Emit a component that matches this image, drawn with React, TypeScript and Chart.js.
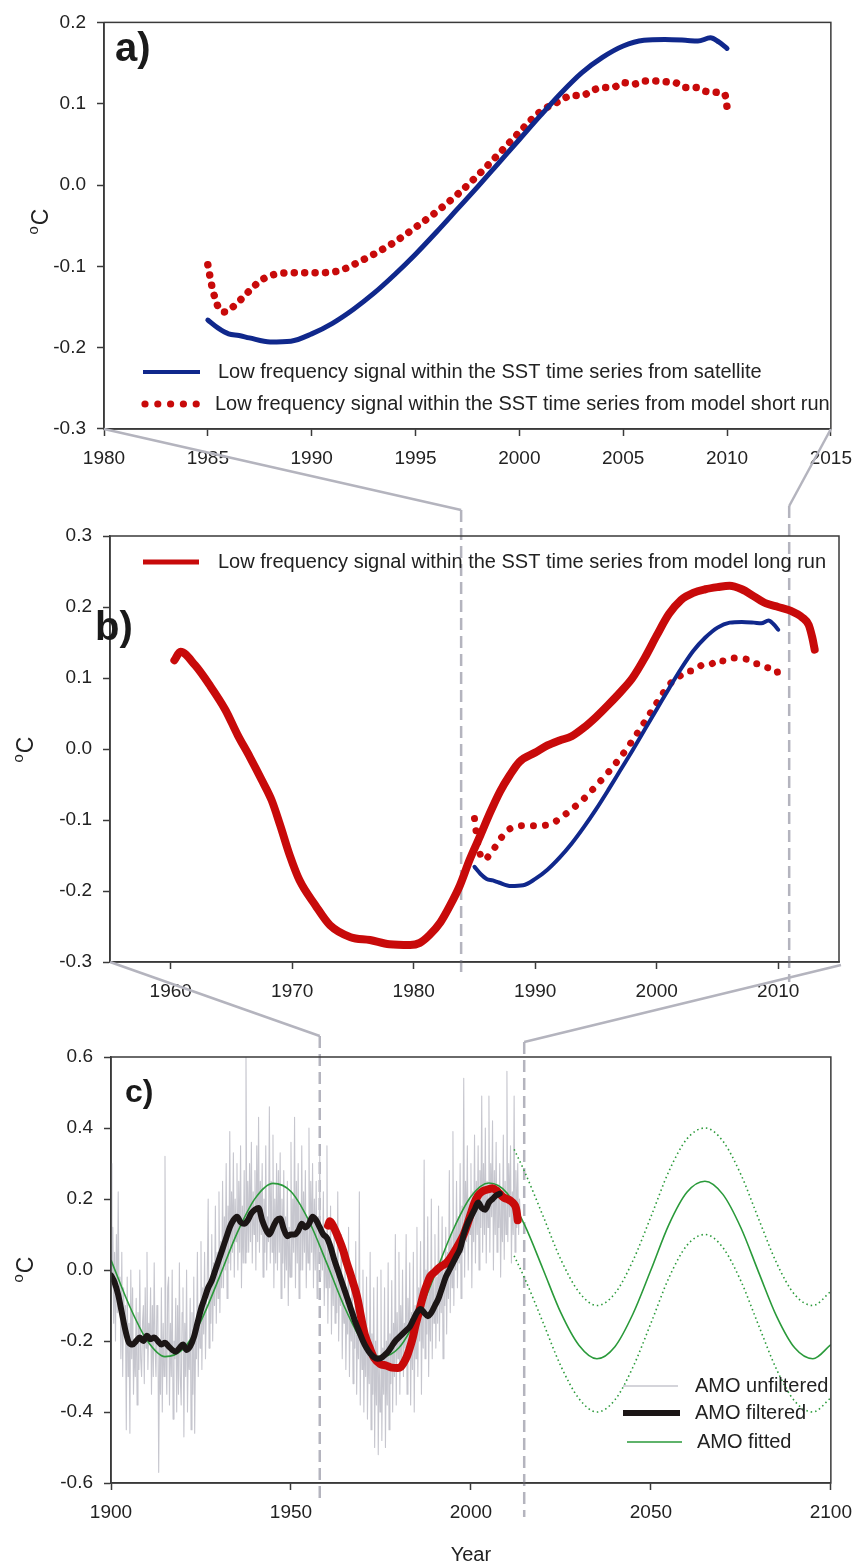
import React, { useEffect, useRef } from 'react';
import { Chart, registerables } from 'chart.js';

Chart.register(...registerables);

const PAGE_W = 863;
const PAGE_H = 1566;
const FONT = '"Liberation Sans", Arial, sans-serif';
const AXIS = '#3a3a3a';
const TEXT = '#222222';
const CONNECT = '#b4b4be';
const NAVY = '#10288c';
const RED = '#c80a0a';
const GREEN = '#2a9a3a';
const GREY = '#c6c6ce';
const BLACK = '#1c1616';

// ---------- Panel a: satellite and model short run ----------
const satYears = [1985, 1985.5, 1986, 1986.5, 1987, 1988, 1989, 1990, 1991, 1992, 1993, 1994, 1995, 1996, 1997, 1998, 1999, 2000, 2001, 2002, 2003, 2004, 2005, 2006, 2007, 2008, 2008.6, 2009.2, 2009.6, 2010];
const satValues = [-0.166, -0.176, -0.183, -0.185, -0.188, -0.193, -0.192, -0.183, -0.17, -0.153, -0.133, -0.11, -0.085, -0.058, -0.03, -0.002, 0.027, 0.056, 0.085, 0.113, 0.138, 0.157, 0.171, 0.178, 0.179, 0.178, 0.177, 0.181, 0.176, 0.168];

const shortYears = [1985, 1985.2, 1985.5, 1985.8, 1986.2, 1986.7, 1987.2, 1987.7, 1988.2, 1989, 1990, 1991, 1991.5, 1992, 1993, 1994, 1995, 1996, 1997, 1998, 1999, 2000, 2001, 2002, 2002.5, 2003, 2003.5, 2004, 2004.5, 2005, 2005.5, 2006, 2006.5, 2007, 2007.5, 2008, 2008.5, 2009, 2009.5, 2009.9, 2010];
const shortValues = [-0.098, -0.125, -0.15, -0.156, -0.15, -0.138, -0.125, -0.115, -0.11, -0.108, -0.108, -0.107, -0.104, -0.098, -0.085, -0.07, -0.052, -0.033, -0.012, 0.012, 0.038, 0.065, 0.09, 0.104, 0.11, 0.11, 0.116, 0.12, 0.12, 0.126, 0.124, 0.128, 0.128, 0.127, 0.126, 0.12, 0.12, 0.115, 0.114, 0.111, 0.096];

// ---------- Panel b: model long run ----------
const longYears = [1960.3, 1960.8, 1962, 1963.2, 1964.5, 1965.5, 1966.5, 1967.5, 1968.3, 1969, 1969.8, 1970.6, 1971.9, 1973.1, 1974.8, 1976.4, 1978, 1979.7, 1980.5, 1981.3, 1982.2, 1983, 1983.8, 1984.6, 1985.5, 1986.3, 1987.1, 1987.9, 1988.7, 1990, 1991, 1992, 1993, 1994, 1995, 1996, 1997, 1998, 1999, 2000, 2001, 2002, 2003, 2004, 2005, 2006, 2007, 2008, 2009, 2010, 2011, 2012, 2012.5, 2012.8, 2013];
const longValues = [0.125, 0.137, 0.118, 0.09, 0.055, 0.02, -0.011, -0.044, -0.072, -0.107, -0.15, -0.185, -0.22, -0.248, -0.265, -0.269, -0.275, -0.276, -0.273, -0.262, -0.244, -0.22, -0.192, -0.156, -0.121, -0.089, -0.06, -0.037, -0.018, -0.005, 0.005, 0.012, 0.018, 0.03, 0.045, 0.062, 0.08, 0.1, 0.128, 0.16, 0.19, 0.21, 0.22, 0.225, 0.228, 0.23, 0.225, 0.215, 0.205, 0.2, 0.195, 0.185, 0.175, 0.157, 0.14];

// ---------- Panel c: AMO ----------
const amoStart = 1900;
const amoStep = 0.25;
const amoRaw = [
  0.30, -0.05, 0.12, -0.15, 0.05, -0.20, 0.10, -0.12, 0.22, -0.10, -0.02, -0.25, 0.05, -0.30, -0.05, -0.18, -0.10, -0.45, -0.02, -0.30, // 1900-1904
  -0.15, -0.46, 0.00, -0.25, -0.05, -0.35, -0.20, -0.30, -0.08, -0.38, -0.12, -0.28, 0.00, -0.25, -0.30, -0.15, -0.10, -0.32, -0.05, -0.22, // 1905-1909
  0.05, -0.28, -0.15, -0.20, -0.05, -0.35, -0.10, -0.30, 0.02, -0.22, -0.30, -0.10, -0.10, -0.57, -0.20, -0.35, -0.05, -0.40, -0.15, -0.30, // 1910-1914
  0.32, -0.20, -0.35, -0.05, -0.02, -0.38, -0.15, -0.30, 0.00, -0.42, -0.20, -0.25, -0.08, -0.40, -0.10, -0.35, 0.02, -0.30, -0.38, -0.12, // 1915-1919
  -0.05, -0.47, -0.15, -0.30, 0.00, -0.40, -0.20, -0.28, -0.08, -0.45, -0.12, -0.35, -0.02, -0.46, -0.20, -0.25, 0.05, -0.30, -0.10, -0.22, // 1920-1924
  0.08, -0.28, -0.05, -0.18, 0.05, -0.25, -0.10, -0.02, 0.20, -0.22, -0.05, -0.15, 0.10, -0.20, 0.02, -0.10, 0.18, -0.15, 0.05, -0.08, // 1925-1929
  0.22, -0.12, 0.08, -0.05, 0.25, -0.05, 0.15, 0.00, 0.30, -0.08, 0.18, 0.02, 0.39, 0.00, 0.22, 0.05, 0.33, -0.02, 0.20, 0.08, // 1930-1934
  0.30, 0.00, 0.25, 0.05, 0.35, -0.05, 0.18, 0.02, 0.28, 0.02, 0.62, 0.05, 0.25, 0.05, 0.30, 0.08, 0.36, 0.02, 0.22, 0.10, // 1935-1939
  0.28, 0.00, 0.35, 0.08, 0.43, 0.05, 0.25, 0.10, 0.30, -0.02, 0.20, 0.05, 0.35, 0.00, 0.15, 0.08, 0.46, 0.02, 0.25, 0.05, // 1940-1944
  0.38, -0.05, 0.20, 0.02, 0.30, 0.00, 0.28, 0.05, 0.33, -0.08, 0.20, 0.02, 0.28, -0.05, 0.15, 0.00, 0.25, -0.10, 0.12, -0.02, // 1945-1949
  0.36, -0.02, 0.20, 0.05, 0.43, -0.05, 0.25, 0.02, 0.30, -0.08, 0.18, 0.00, 0.35, 0.00, 0.22, 0.05, 0.28, -0.05, 0.15, 0.02, // 1950-1954
  0.40, 0.00, 0.25, 0.05, 0.30, -0.05, 0.20, 0.00, 0.25, -0.08, 0.15, 0.02, 0.32, -0.02, 0.12, 0.00, 0.22, -0.10, 0.10, -0.05, // 1955-1959
  0.35, -0.15, 0.08, -0.05, 0.18, -0.18, 0.05, -0.10, 0.12, -0.15, 0.02, -0.12, 0.22, -0.20, 0.00, -0.10, 0.10, -0.25, -0.05, -0.15, // 1960-1964
  0.05, -0.28, -0.10, -0.18, 0.12, -0.30, -0.08, -0.20, 0.00, -0.32, -0.12, -0.22, 0.08, -0.35, -0.15, -0.25, 0.22, -0.38, -0.10, -0.28, // 1965-1969
  0.00, -0.40, -0.15, -0.30, -0.02, -0.42, -0.20, -0.32, 0.05, -0.45, -0.18, -0.35, -0.05, -0.50, -0.20, -0.38, -0.02, -0.52, -0.25, -0.40, // 1970-1974
  0.00, -0.48, -0.22, -0.35, -0.05, -0.50, -0.20, -0.38, 0.02, -0.45, -0.18, -0.32, -0.03, -0.40, -0.15, -0.30, 0.10, -0.38, -0.12, -0.25, // 1975-1979
  0.05, -0.35, -0.10, -0.28, 0.00, -0.30, -0.15, -0.22, 0.10, -0.35, -0.08, -0.25, 0.02, -0.38, -0.12, -0.28, 0.05, -0.40, -0.10, -0.25, // 1980-1984
  0.12, -0.30, -0.05, -0.20, 0.08, -0.35, -0.08, -0.22, 0.31, -0.25, 0.00, -0.18, 0.15, -0.30, -0.05, -0.20, 0.20, -0.25, 0.00, -0.15, // 1985-1989
  0.10, -0.22, -0.02, -0.15, 0.18, -0.20, 0.02, -0.12, 0.15, -0.25, 0.00, -0.10, 0.12, -0.18, 0.05, -0.08, 0.28, -0.12, 0.10, -0.05, // 1990-1994
  0.39, -0.10, 0.12, 0.00, 0.25, -0.05, 0.15, 0.02, 0.30, -0.08, 0.18, 0.05, 0.54, -0.02, 0.25, 0.08, 0.35, 0.00, 0.20, 0.10, // 1995-1999
  0.30, -0.05, 0.22, 0.08, 0.38, 0.02, 0.25, 0.10, 0.35, 0.00, 0.28, 0.12, 0.49, 0.05, 0.30, 0.10, 0.40, 0.02, 0.25, 0.12, // 2000-2004
  0.49, 0.05, 0.30, 0.15, 0.42, 0.00, 0.28, 0.10, 0.36, 0.05, 0.22, 0.12, 0.30, -0.02, 0.20, 0.08, 0.38, 0.03, 0.25, 0.10, // 2005-2009
  0.56, 0.08, 0.30, 0.15, 0.35, 0.02, 0.22, 0.10, 0.49, 0.05, 0.28, 0.12, 0.30, 0.10, 0.20, 0.15, // 2010-2013
];

const filtStart = 1900;
const filtValues = [
  -0.015, -0.035, -0.07, -0.12, -0.17, -0.205, -0.21, -0.2, -0.19, -0.2, // 1900s
  -0.185, -0.195, -0.19, -0.2, -0.21, -0.205, -0.215, -0.225, -0.23, -0.22, // 1910s
  -0.21, -0.225, -0.215, -0.19, -0.15, -0.11, -0.08, -0.05, -0.03, 0.0, // 1920s
  0.03, 0.06, 0.09, 0.12, 0.14, 0.15, 0.135, 0.13, 0.14, 0.16, // 1930s
  0.17, 0.175, 0.14, 0.115, 0.1, 0.12, 0.14, 0.145, 0.115, 0.095, // 1940s
  0.1, 0.1, 0.11, 0.13, 0.12, 0.13, 0.15, 0.14, 0.12, 0.1, // 1950s
  0.09, 0.065, 0.03, 0.0, -0.03, -0.06, -0.09, -0.12, -0.15, -0.175, // 1960s
  -0.2, -0.22, -0.235, -0.245, -0.25, -0.248, -0.24, -0.23, -0.215, -0.2, // 1970s
  -0.19, -0.18, -0.17, -0.16, -0.14, -0.12, -0.11, -0.12, -0.13, -0.12, // 1980s
  -0.1, -0.08, -0.05, -0.02, 0.0, 0.02, 0.04, 0.06, 0.1, 0.13, // 1990s
  0.15, 0.17, 0.19, 0.175, 0.17, 0.19, 0.2, 0.21, 0.215, // 2000s
];

const fitYears = [1900, 1905, 1910, 1915, 1920, 1925, 1930, 1935, 1940, 1945, 1950, 1955, 1960, 1965, 1970, 1975, 1980, 1985, 1990, 1995, 2000, 2005, 2010, 2015, 2020, 2025, 2030, 2035, 2040, 2045, 2050, 2055, 2060, 2065, 2070, 2075, 2080, 2085, 2090, 2095, 2100];
const fitValues = [0.028, -0.098, -0.198, -0.244, -0.223, -0.143, -0.023, 0.103, 0.201, 0.244, 0.221, 0.138, 0.018, -0.107, -0.204, -0.245, -0.219, -0.134, -0.013, 0.112, 0.207, 0.245, 0.217, 0.125, 0.003, -0.121, -0.212, -0.25, -0.216, -0.124, 0.0, 0.128, 0.219, 0.25, 0.213, 0.119, -0.008, -0.132, -0.22, -0.25, -0.21];

const bandYears = [2012, 2015, 2020, 2025, 2030, 2035, 2040, 2045, 2050, 2055, 2060, 2065, 2070, 2075, 2080, 2085, 2090, 2095, 2100];
const bandUpper = [0.34, 0.275, 0.153, 0.029, -0.062, -0.1, -0.066, 0.026, 0.15, 0.278, 0.369, 0.4, 0.363, 0.269, 0.142, 0.018, -0.07, -0.1, -0.06];
const bandLower = [0.04, -0.025, -0.147, -0.271, -0.362, -0.4, -0.366, -0.274, -0.15, -0.022, 0.069, 0.1, 0.063, -0.031, -0.158, -0.282, -0.37, -0.4, -0.36];

// ---------- axes ----------
const ticksAX = [1980, 1985, 1990, 1995, 2000, 2005, 2010, 2015];
const ticksAY = [-0.3, -0.2, -0.1, 0.0, 0.1, 0.2];
const ticksBX = [1960, 1970, 1980, 1990, 2000, 2010];
const ticksBY = [-0.3, -0.2, -0.1, 0.0, 0.1, 0.2, 0.3];
const ticksCX = [1900, 1950, 2000, 2050, 2100];
const ticksCY = [-0.6, -0.4, -0.2, 0.0, 0.2, 0.4, 0.6];

// windows of the zoomed panels, marked by dashed lines
const windowInB = [1983.9, 2010.9];
const windowInC = [1958, 2014.8];

const legendA = [
  'Low frequency signal within the SST time series from satellite',
  'Low frequency signal within the SST time series from model short run',
];
const legendB = ['Low frequency signal within the SST time series from model long run'];
const legendC = ['AMO unfiltered', 'AMO filtered', 'AMO fitted'];

const pts = (xs: number[], ys: number[]) => xs.map((x, i) => ({ x, y: ys[i] }));
const ptsStep = (start: number, step: number, ys: number[]) => ys.map((y, i) => ({ x: start + i * step, y }));
const fmt = (v: number) => (Math.abs(v) < 1e-9 ? 0 : v).toFixed(1);

function makeScales(xr: number[], xt: number[], yr: number[], yt: number[]) {
  const grid = { drawOnChartArea: false, drawTicks: true, tickLength: 7, tickWidth: 1.5, tickColor: AXIS };
  const border = { display: true, color: AXIS, width: 1.5 };
  const font = { family: FONT, size: 19 };
  return {
    x: {
      type: 'linear', position: 'bottom', min: xr[0], max: xr[1], grid, border,
      ticks: { color: TEXT, font, padding: 11, maxRotation: 0, autoSkip: false, callback: (v: number) => String(v) },
      afterBuildTicks: (s: any) => { s.ticks = xt.map((v) => ({ value: v })); },
      afterFit: (s: any) => { s.height = 45; },
    },
    y: {
      type: 'linear', position: 'left', min: yr[0], max: yr[1], grid, border,
      ticks: { color: TEXT, font, padding: 11, autoSkip: false, callback: (v: number) => fmt(v) },
      afterBuildTicks: (s: any) => { s.ticks = yt.map((v) => ({ value: v })); },
      afterFit: (s: any) => { s.width = 70; },
    },
  };
}

function frame(ctx: CanvasRenderingContext2D, chart: any) {
  const a = chart.chartArea;
  ctx.save();
  ctx.strokeStyle = AXIS;
  ctx.lineWidth = 1.5;
  ctx.strokeRect(a.left, a.top, a.right - a.left, a.bottom - a.top);
  ctx.restore();
}

function unitLabel(ctx: CanvasRenderingContext2D, cx: number, cy: number) {
  ctx.save();
  ctx.translate(cx, cy);
  ctx.rotate(-Math.PI / 2);
  ctx.fillStyle = TEXT;
  ctx.textAlign = 'left';
  ctx.textBaseline = 'alphabetic';
  ctx.font = `23px ${FONT}`;
  const wC = ctx.measureText('C').width;
  ctx.font = `15px ${FONT}`;
  const wo = ctx.measureText('o').width;
  const x0 = -(wC + wo) / 2;
  ctx.fillText('o', x0, -2);
  ctx.font = `23px ${FONT}`;
  ctx.fillText('C', x0 + wo + 1, 8);
  ctx.restore();
}

function panelLabel(ctx: CanvasRenderingContext2D, text: string, x: number, y: number, size: number) {
  ctx.save();
  ctx.fillStyle = '#1a1a1a';
  ctx.font = `bold ${size}px ${FONT}`;
  ctx.textAlign = 'left';
  ctx.textBaseline = 'alphabetic';
  ctx.fillText(text, x, y);
  ctx.restore();
}

function legendText(ctx: CanvasRenderingContext2D, text: string, x: number, y: number, size = 20) {
  ctx.save();
  ctx.fillStyle = TEXT;
  ctx.font = `${size}px ${FONT}`;
  ctx.textAlign = 'left';
  ctx.textBaseline = 'middle';
  ctx.fillText(text, x, y);
  ctx.restore();
}

function sampleLine(ctx: CanvasRenderingContext2D, x1: number, x2: number, y: number, color: string, width: number) {
  ctx.save();
  ctx.strokeStyle = color;
  ctx.lineWidth = width;
  ctx.lineCap = 'butt';
  ctx.beginPath();
  ctx.moveTo(x1, y);
  ctx.lineTo(x2, y);
  ctx.stroke();
  ctx.restore();
}

function seg(ctx: CanvasRenderingContext2D, x1: number, y1: number, x2: number, y2: number, dash: number[]) {
  ctx.save();
  ctx.strokeStyle = CONNECT;
  ctx.lineWidth = 2.5;
  ctx.setLineDash(dash);
  ctx.beginPath();
  ctx.moveTo(x1, y1);
  ctx.lineTo(x2, y2);
  ctx.stroke();
  ctx.restore();
}

const baseOptions = (padding: any, scales: any) => ({
  responsive: false,
  devicePixelRatio: 1,
  animation: false as const,
  events: [] as any[],
  layout: { padding },
  plugins: { legend: { display: false }, tooltip: { enabled: false } },
  elements: { point: { radius: 0, hoverRadius: 0 }, line: { borderJoinStyle: 'round' as const } },
  scales,
});

export default function App() {
  const refA = useRef<HTMLCanvasElement>(null);
  const refB = useRef<HTMLCanvasElement>(null);
  const refC = useRef<HTMLCanvasElement>(null);

  useEffect(() => {
    const chartA = new Chart(refA.current as HTMLCanvasElement, {
      type: 'line',
      data: {
        datasets: [
          { data: pts(satYears, satValues), borderColor: NAVY, borderWidth: 5, cubicInterpolationMode: 'monotone', borderCapStyle: 'round' },
          { data: pts(shortYears, shortValues), borderColor: RED, borderWidth: 7.5, borderDash: [0.01, 10.4], borderCapStyle: 'round', cubicInterpolationMode: 'monotone' },
        ],
      } as any,
      options: baseOptions({ left: 34, top: 18, right: 30, bottom: PAGE_H - 429 - 45 }, makeScales([1980, 2015], ticksAX, [-0.3, 0.2], ticksAY)) as any,
      plugins: [{
        id: 'decorA',
        afterDraw(chart: any) {
          const ctx = chart.ctx;
          frame(ctx, chart);
          panelLabel(ctx, 'a)', 115, 61, 40);
          unitLabel(ctx, 40, 222);
          sampleLine(ctx, 143, 200, 372, NAVY, 4);
          legendText(ctx, legendA[0], 218, 372);
          ctx.save();
          ctx.fillStyle = RED;
          for (let i = 0; i < 5; i++) {
            ctx.beginPath();
            ctx.arc(145 + i * 12.8, 404, 3.6, 0, Math.PI * 2);
            ctx.fill();
          }
          ctx.restore();
          legendText(ctx, legendA[1], 215, 404);
        },
      }],
    });

    const chartB = new Chart(refB.current as HTMLCanvasElement, {
      type: 'line',
      data: {
        datasets: [
          { data: pts(satYears, satValues), borderColor: NAVY, borderWidth: 4, cubicInterpolationMode: 'monotone', borderCapStyle: 'round' },
          { data: pts(shortYears, shortValues), borderColor: RED, borderWidth: 7, borderDash: [0.01, 12], borderCapStyle: 'round', cubicInterpolationMode: 'monotone' },
          { data: pts(longYears, longValues), borderColor: RED, borderWidth: 8, cubicInterpolationMode: 'monotone', borderCapStyle: 'round' },
        ],
      } as any,
      options: baseOptions({ left: 40, top: 536, right: 24, bottom: PAGE_H - 962 - 45 }, makeScales([1955, 2015], ticksBX, [-0.3, 0.3], ticksBY)) as any,
      plugins: [{
        id: 'decorB',
        beforeDatasetsDraw(chart: any) {
          const ctx = chart.ctx;
          const a = chartA.chartArea;
          const ca = chart.chartArea;
          const xl = chart.scales.x.getPixelForValue(windowInB[0]);
          const xr = chart.scales.x.getPixelForValue(windowInB[1]);
          seg(ctx, a.left, a.bottom, xl, ca.top - 26, []);
          seg(ctx, a.right, a.bottom, xr, ca.top - 30, []);
          seg(ctx, xl, ca.top - 26, xl, ca.bottom + 14, [12, 6]);
          seg(ctx, xr, ca.top - 30, xr, ca.bottom + 20, [12, 6]);
        },
        afterDraw(chart: any) {
          const ctx = chart.ctx;
          frame(ctx, chart);
          panelLabel(ctx, 'b)', 95, 640, 40);
          unitLabel(ctx, 25, 750);
          sampleLine(ctx, 143, 199, 562, RED, 5);
          legendText(ctx, legendB[0], 218, 562);
        },
      }],
    });

    const chartC = new Chart(refC.current as HTMLCanvasElement, {
      type: 'line',
      data: {
        datasets: [
          { data: ptsStep(filtStart, 1, filtValues), borderColor: BLACK, borderWidth: 6, cubicInterpolationMode: 'monotone', borderCapStyle: 'round' },
          { data: pts(longYears, longValues), borderColor: RED, borderWidth: 8, cubicInterpolationMode: 'monotone', borderCapStyle: 'round' },
          { data: pts(fitYears, fitValues), borderColor: GREEN, borderWidth: 1.6, cubicInterpolationMode: 'monotone' },
          { data: pts(bandYears, bandUpper), borderColor: GREEN, borderWidth: 1.6, borderDash: [1.5, 3], cubicInterpolationMode: 'monotone' },
          { data: pts(bandYears, bandLower), borderColor: GREEN, borderWidth: 1.6, borderDash: [1.5, 3], cubicInterpolationMode: 'monotone' },
          { data: ptsStep(amoStart, amoStep, amoRaw), borderColor: GREY, borderWidth: 1.1, tension: 0 },
        ],
      } as any,
      options: baseOptions({ left: 41, top: 1057, right: 24, bottom: PAGE_H - 1483 - 45 }, makeScales([1900, 2100], ticksCX, [-0.6, 0.6], ticksCY)) as any,
      plugins: [{
        id: 'decorC',
        beforeDatasetsDraw(chart: any) {
          const ctx = chart.ctx;
          const b = chartB.chartArea;
          const ca = chart.chartArea;
          const xl = chart.scales.x.getPixelForValue(windowInC[0]);
          const xr = chart.scales.x.getPixelForValue(windowInC[1]);
          seg(ctx, b.left, b.bottom, xl, ca.top - 21, []);
          seg(ctx, b.right + 2, b.bottom + 3, xr, ca.top - 15, []);
          seg(ctx, xl, ca.top - 21, xl, ca.bottom + 15, [12, 6]);
          seg(ctx, xr, ca.top - 15, xr, ca.bottom + 34, [12, 6]);
        },
        afterDraw(chart: any) {
          const ctx = chart.ctx;
          frame(ctx, chart);
          panelLabel(ctx, 'c)', 125, 1102, 32);
          unitLabel(ctx, 25, 1270);
          sampleLine(ctx, 623, 678, 1386, GREY, 1.3);
          legendText(ctx, legendC[0], 695, 1386);
          sampleLine(ctx, 623, 680, 1413, BLACK, 6);
          legendText(ctx, legendC[1], 695, 1413);
          sampleLine(ctx, 627, 682, 1442, GREEN, 1.6);
          legendText(ctx, legendC[2], 697, 1442);
          ctx.save();
          ctx.fillStyle = TEXT;
          ctx.font = `20px ${FONT}`;
          ctx.textAlign = 'center';
          ctx.textBaseline = 'middle';
          ctx.fillText('Year', (chart.chartArea.left + chart.chartArea.right) / 2, 1555);
          ctx.restore();
        },
      }],
    });

    return () => {
      chartA.destroy();
      chartB.destroy();
      chartC.destroy();
    };
  }, []);

  const cs: React.CSSProperties = { position: 'absolute', left: 0, top: 0 };
  return (
    <div style={{ position: 'absolute', left: 0, top: 0, width: PAGE_W, height: PAGE_H, background: '#ffffff', overflow: 'hidden' }}>
      <canvas ref={refA} width={PAGE_W} height={PAGE_H} style={cs} />
      <canvas ref={refB} width={PAGE_W} height={PAGE_H} style={cs} />
      <canvas ref={refC} width={PAGE_W} height={PAGE_H} style={cs} />
    </div>
  );
}
